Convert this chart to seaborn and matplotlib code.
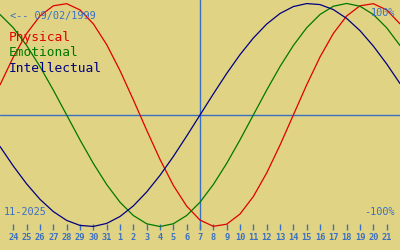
import numpy as np
import matplotlib
matplotlib.use("Agg")
import matplotlib.pyplot as plt
import seaborn as sns

# Day positions (index 0 = Oct 24) and their day-of-month labels
x_idx = list(range(-1, 30))
days = [23, 24, 25, 26, 27, 28, 29, 30, 31, 1, 2, 3, 4, 5, 6, 7, 8, 9, 10,
        11, 12, 13, 14, 15, 16, 17, 18, 19, 20, 21, 22]

physical = [0.270, 0.520, 0.731, 0.888, 0.979, 0.998, 0.942, 0.817, 0.631,
            0.398, 0.136, -0.136, -0.398, -0.631, -0.817, -0.942, -0.998,
            -0.979, -0.888, -0.731, -0.520, -0.270, 0.000, 0.270, 0.520,
            0.731, 0.888, 0.979, 0.998, 0.942, 0.817]
emotional = [0.901, 0.782, 0.623, 0.434, 0.223, 0.000, -0.223, -0.434,
             -0.623, -0.782, -0.901, -0.975, -1.000, -0.975, -0.901, -0.782,
             -0.623, -0.434, -0.223, 0.000, 0.223, 0.434, 0.623, 0.782,
             0.901, 0.975, 1.000, 0.975, 0.901, 0.782, 0.623]
intellectual = [-0.282, -0.458, -0.618, -0.756, -0.866, -0.945, -0.990,
                -0.999, -0.972, -0.910, -0.815, -0.690, -0.541, -0.372,
                -0.189, 0.000, 0.189, 0.372, 0.541, 0.690, 0.815, 0.910,
                0.972, 0.999, 0.990, 0.945, 0.866, 0.756, 0.618, 0.458, 0.282]

today_idx = 14
series_names = ["Physical", "Emotional", "Intellectual"]
series_vals = [physical, emotional, intellectual]
series_cols = ["#e00000", "#007800", "#000080"]

bg = "#e0d384"
blue = "#3a70c4"
mono = "DejaVu Sans Mono"

sns.set_theme(style="white")
plt.rcParams["font.family"] = [mono]

fig = plt.figure(figsize=(4, 2.5), dpi=100, facecolor=bg)
ax = fig.add_axes([0, 20 / 250, 1, 230 / 250])
ax.set_facecolor(bg)

ax.axhline(0, color=blue, lw=1.0, zorder=1)
ax.axvline(today_idx, color=blue, lw=1.0, zorder=1)

for name, vals, col in zip(series_names, series_vals, series_cols):
    sns.lineplot(x=x_idx, y=vals, color=col, lw=0.9, ax=ax, zorder=3)

ax.set_xlim(-1, 29)
ax.set_ylim(-1.031, 1.031)
for s in ax.spines.values():
    s.set_visible(False)
ax.set_yticks([])
ax.set_xticks(x_idx[1:-1])
ax.set_xticklabels([str(d) for d in days[1:-1]], fontweight="bold")
ax.tick_params(axis="x", direction="in", length=4.5, width=1.0, color=blue,
               labelcolor=blue, labelsize=6.2, pad=2.5, bottom=True)
ax.set_xlabel("")
ax.set_ylabel("")

def px(x, y):
    return x / 400, 1 - y / 250

fig.text(*px(10, 16), "<-- 09/02/1999", color=blue, fontsize=7.4,
         va="center", ha="left")
fig.text(*px(9, 38), "Physical", color=series_cols[0], fontsize=9.3,
         va="center", ha="left")
fig.text(*px(9, 53), "Emotional", color=series_cols[1], fontsize=9.3,
         va="center", ha="left")
fig.text(*px(9, 68), "Intellectual", color=series_cols[2], fontsize=9.3,
         va="center", ha="left")
fig.text(*px(395, 13), "100%", color=blue, fontsize=7.4, va="center", ha="right")
fig.text(*px(395, 212), "-100%", color=blue, fontsize=7.4, va="center", ha="right")
fig.text(*px(4, 212), "11-2025", color=blue, fontsize=7.4, va="center", ha="left")

fig.savefig("out.png", dpi=100, facecolor=bg)
